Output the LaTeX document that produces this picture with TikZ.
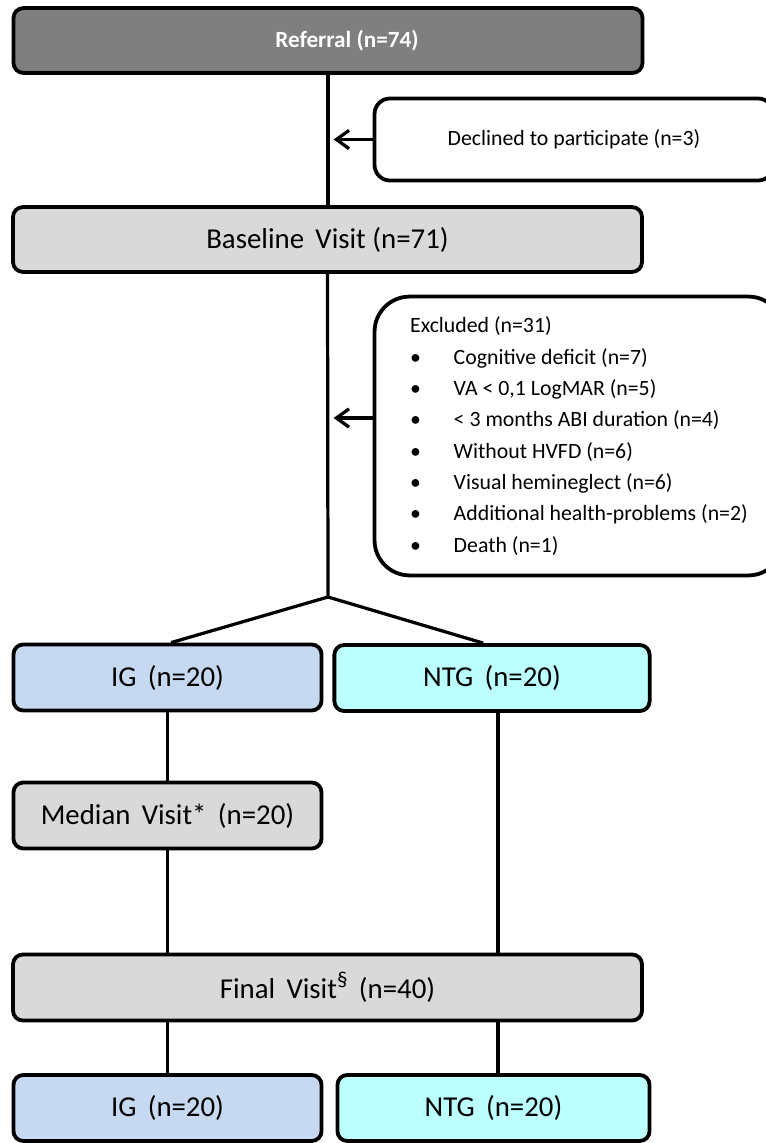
\documentclass[tikz,border=0pt]{standalone}
\usepackage{fontspec}
\setmainfont{Carlito}
\usetikzlibrary{arrows.meta,positioning}

\definecolor{refgray}{RGB}{127,127,127}
\definecolor{visitgray}{RGB}{217,217,217}
\definecolor{igblue}{RGB}{198,217,241}
\definecolor{ntgcyan}{RGB}{187,255,255}

\begin{document}
\begin{tikzpicture}[x=0.025cm, y=-0.025cm,
		box/.style={draw, line width=2.7pt, rounded corners=7pt, inner sep=0pt, font=\fontsize{20.5}{24}\selectfont},
		wide/.style={box, minimum width=15.72cm, minimum height=1.62cm},
		narrow/.style={box, minimum width=7.7cm, minimum height=1.65cm},
		sidebox/.style={draw, line width=2.7pt, inner sep=0pt, font=\fontsize{15.5}{22.3}\selectfont},
		link/.style={line width=2.3pt},
		>={Straight Barb[length=9pt, width=13pt]}]
		\useasboundingbox (0,0) rectangle (766,1143);
		\clip (0,0) rectangle (766,1143);
		
		% Visits
		\node[wide, fill=refgray, text=white, font=\bfseries\fontsize{16.5}{19}\selectfont] (ref) at (328,40.5) {\hspace*{.95cm}Referral (n=74)};
		\node[wide, fill=visitgray] (base) at (327.5,239.5) {Baseline\, Visit (n=71)};
		\node[narrow, fill=igblue] (ig) at (167.5,677.5) {IG\, (n=20)};
		\node[narrow, fill=ntgcyan, minimum width=7.88cm] (ntg) at (492,678) {NTG\, (n=20)};
		\node[narrow, fill=visitgray] (med) at (167.5,815.5) {Median\, Visit*\, (n=20)};
		\node[wide, fill=visitgray, minimum height=1.65cm] (fin) at (327.5,987.5) {Final\, Visit\raisebox{.42em}{\fontsize{15}{15}\selectfont §}\, (n=40)};
		\node[narrow, fill=igblue] (igb) at (167.5,1108) {IG\, (n=20)};
		\node[narrow, fill=ntgcyan, minimum width=7.8cm] (ntgb) at (493.5,1108) {NTG\, (n=20)};
		
		% Drop-outs
		\node[sidebox, rounded corners=11pt, minimum width=9.97cm, minimum height=2.05cm] (decl) at (574,139.5) {Declined to participate (n=3)};
		\node[sidebox, rounded corners=25pt, minimum width=10.22cm, minimum height=6.97cm, align=left] (excl) at (579,436) {Excluded (n=31)\\
			\makebox[31pt][l]{\textbullet}Cognitive deficit (n=7)\\
			\makebox[31pt][l]{\textbullet}VA < 0,1 LogMAR (n=5)\\
			\makebox[31pt][l]{\textbullet}< 3 months ABI duration (n=4)\\
			\makebox[31pt][l]{\textbullet}Without HVFD (n=6)\\
			\makebox[31pt][l]{\textbullet}Visual hemineglect (n=6)\\
			\makebox[31pt][l]{\textbullet}Additional health-problems (n=2)\\
			\makebox[31pt][l]{\textbullet}Death (n=1)};
		
		% Flow
		\coordinate (split) at (328,597);
		\coordinate (exclin) at ([yshift=.45cm]excl.west);
		\coordinate (ntgdown) at ([xshift=.15cm]ntg.south);
		\draw[link] (ref.south) -- (ref.south |- base.north);
		\draw[link] (base.south) -- (split);
		\draw[link] ([xshift=.09cm]ig.north) -- (split) -- ([xshift=-.22cm]ntg.north);
		\draw[link, ->, shorten >=4pt] (decl.west) -- (decl.west -| ref.south);
		\draw[link, ->, shorten >=4pt] (exclin) -- (exclin -| ref.south);
		\draw[link] (ig.south) -- (med.north);
		\draw[link] (med.south) -- (med.south |- fin.north);
		\draw[link] (ntgdown) -- (ntgdown |- fin.north);
		\draw[link] (igb.north |- fin.south) -- (igb.north);
		\draw[link] (ntgdown |- fin.south) -- (ntgdown |- ntgb.north);
	\end{tikzpicture}
\end{document}
